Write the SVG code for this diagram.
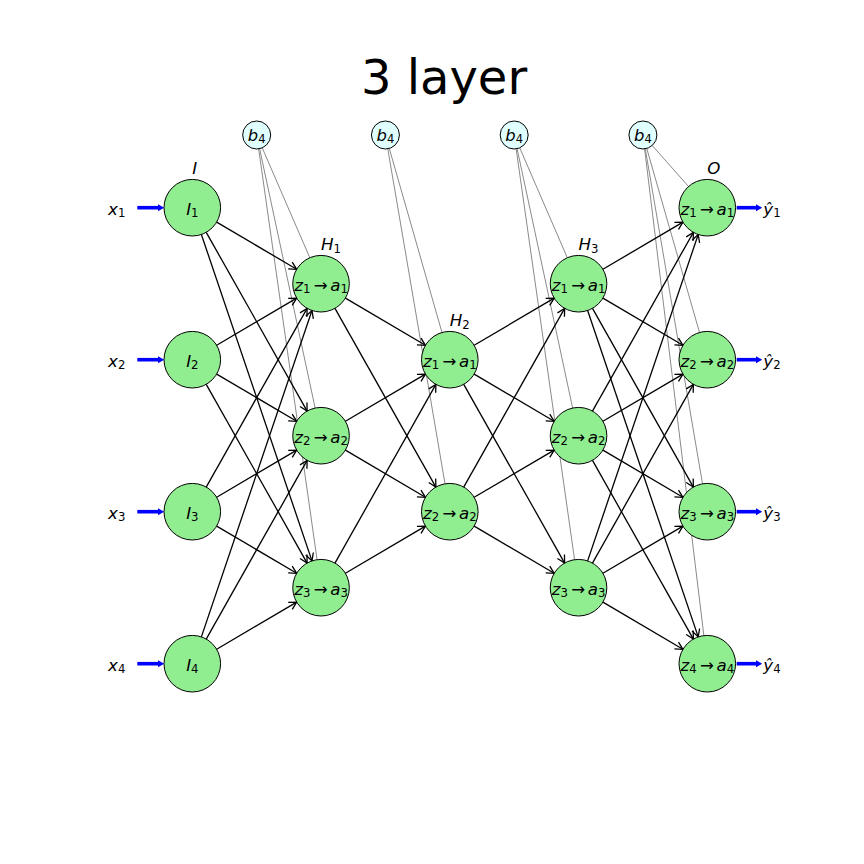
<svg xmlns="http://www.w3.org/2000/svg" width="864" height="864" viewBox="0 0 864 864">
<style>
.t{font-family:"DejaVu Sans","Liberation Sans",sans-serif;font-size:16.67px;fill:#000}
.it{font-style:italic}
.s{font-size:11.67px}
.node circle{fill:#90ee90;stroke:#000;stroke-width:1}
.bias circle{fill:#e0ffff;stroke:#000;stroke-width:1}
.bias text{font-size:16.4px}
.bias .s{font-size:11.5px}
#arrows line{stroke:#000;stroke-width:1.3;marker-end:url(#ah)}
#biaslines line{stroke:#8a8a8a;stroke-width:1}
.io line{stroke:#0000ff;stroke-width:3.6}
.io polygon{fill:#0000ff}
</style>
<defs>
<marker id="ah" markerUnits="userSpaceOnUse" viewBox="-10 -6 12 12" markerWidth="12" markerHeight="12" refX="0" refY="0" orient="auto">
<path d="M-7.5,-4 L0,0 L-7.5,4" fill="none" stroke="#000" stroke-width="1.3"/>
</marker>
</defs>
<rect width="864" height="864" fill="#fff"/>
<text class="t" x="444" y="94" text-anchor="middle" style="font-size:48px">3 layer</text>

<g id="connectors">
<g id="biaslines">
<line x1="262.24" y1="147.85" x2="309.81" y2="257.73"/>
<line x1="259.61" y1="148.69" x2="315.13" y2="408.03"/>
<line x1="258.65" y1="148.86" x2="317.07" y2="559.68"/>
<line x1="389.28" y1="148.46" x2="442.01" y2="332.49"/>
<line x1="387.78" y1="148.80" x2="445.03" y2="483.80"/>
<line x1="519.74" y1="147.85" x2="567.31" y2="257.73"/>
<line x1="517.11" y1="148.69" x2="572.63" y2="408.03"/>
<line x1="516.15" y1="148.86" x2="574.57" y2="559.68"/>
<line x1="652.21" y1="145.48" x2="688.54" y2="186.51"/>
<line x1="646.78" y1="148.46" x2="699.51" y2="332.49"/>
<line x1="645.28" y1="148.80" x2="702.53" y2="483.80"/>
<line x1="644.62" y1="148.90" x2="703.88" y2="635.61"/>
</g>
<g id="arrows">
<line x1="216.67" y1="222.09" x2="296.68" y2="269.31"/>
<line x1="206.22" y1="232.34" x2="307.13" y2="411.06"/>
<line x1="201.38" y1="234.50" x2="311.97" y2="560.90"/>
<line x1="216.67" y1="345.31" x2="296.68" y2="298.09"/>
<line x1="216.67" y1="374.09" x2="296.68" y2="421.31"/>
<line x1="206.22" y1="384.34" x2="307.13" y2="563.06"/>
<line x1="206.22" y1="487.06" x2="307.13" y2="308.34"/>
<line x1="216.67" y1="497.31" x2="296.68" y2="450.09"/>
<line x1="216.67" y1="526.09" x2="296.68" y2="573.31"/>
<line x1="201.38" y1="636.90" x2="311.97" y2="310.50"/>
<line x1="206.22" y1="639.06" x2="307.13" y2="460.34"/>
<line x1="216.67" y1="649.31" x2="296.68" y2="602.09"/>

<line x1="345.42" y1="298.09" x2="425.43" y2="345.31"/>
<line x1="334.97" y1="308.34" x2="435.88" y2="487.06"/>
<line x1="345.42" y1="421.31" x2="425.43" y2="374.09"/>
<line x1="345.42" y1="450.09" x2="425.43" y2="497.31"/>
<line x1="334.97" y1="563.06" x2="435.88" y2="384.34"/>
<line x1="345.42" y1="573.31" x2="425.43" y2="526.09"/>

<line x1="474.17" y1="345.31" x2="554.18" y2="298.09"/>
<line x1="474.17" y1="374.09" x2="554.18" y2="421.31"/>
<line x1="463.72" y1="384.34" x2="564.63" y2="563.06"/>
<line x1="463.72" y1="487.06" x2="564.63" y2="308.34"/>
<line x1="474.17" y1="497.31" x2="554.18" y2="450.09"/>
<line x1="474.17" y1="526.09" x2="554.18" y2="573.31"/>

<line x1="602.92" y1="269.31" x2="682.93" y2="222.09"/>
<line x1="602.92" y1="298.09" x2="682.93" y2="345.31"/>
<line x1="592.47" y1="308.34" x2="693.38" y2="487.06"/>
<line x1="587.63" y1="310.50" x2="698.22" y2="636.90"/>
<line x1="592.47" y1="411.06" x2="693.38" y2="232.34"/>
<line x1="602.92" y1="421.31" x2="682.93" y2="374.09"/>
<line x1="602.92" y1="450.09" x2="682.93" y2="497.31"/>
<line x1="592.47" y1="460.34" x2="693.38" y2="639.06"/>
<line x1="587.63" y1="560.90" x2="698.22" y2="234.50"/>
<line x1="592.47" y1="563.06" x2="693.38" y2="384.34"/>
<line x1="602.92" y1="573.31" x2="682.93" y2="526.09"/>
<line x1="602.92" y1="602.09" x2="682.93" y2="649.31"/>
</g>
<g id="inputs" class="io">
<line x1="137.3" y1="207.7" x2="159" y2="207.7"/><polygon points="158,204.2 164.2,207.7 158,211.2"/>
<line x1="137.3" y1="359.7" x2="159" y2="359.7"/><polygon points="158,356.2 164.2,359.7 158,363.2"/>
<line x1="137.3" y1="511.7" x2="159" y2="511.7"/><polygon points="158,508.2 164.2,511.7 158,515.2"/>
<line x1="137.3" y1="663.7" x2="159" y2="663.7"/><polygon points="158,660.2 164.2,663.7 158,667.2"/>
</g>
<g id="outputs" class="io">
<line x1="736.7" y1="207.7" x2="757" y2="207.7"/><polygon points="756,204.2 762.2,207.7 756,211.2"/>
<line x1="736.7" y1="359.7" x2="757" y2="359.7"/><polygon points="756,356.2 762.2,359.7 756,363.2"/>
<line x1="736.7" y1="511.7" x2="757" y2="511.7"/><polygon points="756,508.2 762.2,511.7 756,515.2"/>
<line x1="736.7" y1="663.7" x2="757" y2="663.7"/><polygon points="756,660.2 762.2,663.7 756,667.2"/>
</g>
</g>

<g id="io-labels" class="t" text-anchor="middle">
<text x="116.7" y="214.5"><tspan class="it">x</tspan><tspan class="s" dy="2.8">1</tspan></text>
<text x="116.7" y="366.5"><tspan class="it">x</tspan><tspan class="s" dy="2.8">2</tspan></text>
<text x="116.7" y="518.5"><tspan class="it">x</tspan><tspan class="s" dy="2.8">3</tspan></text>
<text x="116.7" y="670.5"><tspan class="it">x</tspan><tspan class="s" dy="2.8">4</tspan></text>
<text x="772" y="214.5"><tspan class="it">ŷ</tspan><tspan class="s" dy="2.8">1</tspan></text>
<text x="772" y="366.5"><tspan class="it">ŷ</tspan><tspan class="s" dy="2.8">2</tspan></text>
<text x="772" y="518.5"><tspan class="it">ŷ</tspan><tspan class="s" dy="2.8">3</tspan></text>
<text x="772" y="670.5"><tspan class="it">ŷ</tspan><tspan class="s" dy="2.8">4</tspan></text>
</g>

<g id="layer-labels" class="t">
<text x="192.3" y="173.5" class="it">I</text>
<text x="321.05" y="250"><tspan class="it">H</tspan><tspan class="s" dy="2.8">1</tspan></text>
<text x="449.8" y="326"><tspan class="it">H</tspan><tspan class="s" dy="2.8">2</tspan></text>
<text x="578.55" y="250"><tspan class="it">H</tspan><tspan class="s" dy="2.8">3</tspan></text>
<text x="707.3" y="173.5" class="it">O</text>
</g>

<g id="B1" class="bias"><circle cx="256.675" cy="135" r="14"/><text class="t" x="256.675" y="140.8" text-anchor="middle"><tspan class="it">b</tspan><tspan class="s" dy="2.6">4</tspan></text></g>
<g id="B2" class="bias"><circle cx="385.425" cy="135" r="14"/><text class="t" x="385.425" y="140.8" text-anchor="middle"><tspan class="it">b</tspan><tspan class="s" dy="2.6">4</tspan></text></g>
<g id="B3" class="bias"><circle cx="514.175" cy="135" r="14"/><text class="t" x="514.175" y="140.8" text-anchor="middle"><tspan class="it">b</tspan><tspan class="s" dy="2.6">4</tspan></text></g>
<g id="B4" class="bias"><circle cx="642.925" cy="135" r="14"/><text class="t" x="642.925" y="140.8" text-anchor="middle"><tspan class="it">b</tspan><tspan class="s" dy="2.6">4</tspan></text></g>

<g id="I1" class="node"><circle cx="192.3" cy="207.7" r="28.3"/><text class="t" x="192.3" y="214.5" text-anchor="middle"><tspan class="it">I</tspan><tspan class="s" dy="2.8">1</tspan></text></g>
<g id="I2" class="node"><circle cx="192.3" cy="359.7" r="28.3"/><text class="t" x="192.3" y="366.5" text-anchor="middle"><tspan class="it">I</tspan><tspan class="s" dy="2.8">2</tspan></text></g>
<g id="I3" class="node"><circle cx="192.3" cy="511.7" r="28.3"/><text class="t" x="192.3" y="518.5" text-anchor="middle"><tspan class="it">I</tspan><tspan class="s" dy="2.8">3</tspan></text></g>
<g id="I4" class="node"><circle cx="192.3" cy="663.7" r="28.3"/><text class="t" x="192.3" y="670.5" text-anchor="middle"><tspan class="it">I</tspan><tspan class="s" dy="2.8">4</tspan></text></g>

<g id="H1_1" class="node"><circle cx="321.05" cy="283.7" r="28.3"/><text class="t" x="321.05" y="290.6" text-anchor="middle"><tspan class="it">z</tspan><tspan class="s" dy="2.8">1</tspan><tspan dy="-2.8" dx="3.5">→</tspan><tspan class="it" dx="2.5">a</tspan><tspan class="s" dy="2.8">1</tspan></text></g>
<g id="H1_2" class="node"><circle cx="321.05" cy="435.7" r="28.3"/><text class="t" x="321.05" y="442.6" text-anchor="middle"><tspan class="it">z</tspan><tspan class="s" dy="2.8">2</tspan><tspan dy="-2.8" dx="3.5">→</tspan><tspan class="it" dx="2.5">a</tspan><tspan class="s" dy="2.8">2</tspan></text></g>
<g id="H1_3" class="node"><circle cx="321.05" cy="587.7" r="28.3"/><text class="t" x="321.05" y="594.6" text-anchor="middle"><tspan class="it">z</tspan><tspan class="s" dy="2.8">3</tspan><tspan dy="-2.8" dx="3.5">→</tspan><tspan class="it" dx="2.5">a</tspan><tspan class="s" dy="2.8">3</tspan></text></g>

<g id="H2_1" class="node"><circle cx="449.8" cy="359.7" r="28.3"/><text class="t" x="449.8" y="366.6" text-anchor="middle"><tspan class="it">z</tspan><tspan class="s" dy="2.8">1</tspan><tspan dy="-2.8" dx="3.5">→</tspan><tspan class="it" dx="2.5">a</tspan><tspan class="s" dy="2.8">1</tspan></text></g>
<g id="H2_2" class="node"><circle cx="449.8" cy="511.7" r="28.3"/><text class="t" x="449.8" y="518.6" text-anchor="middle"><tspan class="it">z</tspan><tspan class="s" dy="2.8">2</tspan><tspan dy="-2.8" dx="3.5">→</tspan><tspan class="it" dx="2.5">a</tspan><tspan class="s" dy="2.8">2</tspan></text></g>

<g id="H3_1" class="node"><circle cx="578.55" cy="283.7" r="28.3"/><text class="t" x="578.55" y="290.6" text-anchor="middle"><tspan class="it">z</tspan><tspan class="s" dy="2.8">1</tspan><tspan dy="-2.8" dx="3.5">→</tspan><tspan class="it" dx="2.5">a</tspan><tspan class="s" dy="2.8">1</tspan></text></g>
<g id="H3_2" class="node"><circle cx="578.55" cy="435.7" r="28.3"/><text class="t" x="578.55" y="442.6" text-anchor="middle"><tspan class="it">z</tspan><tspan class="s" dy="2.8">2</tspan><tspan dy="-2.8" dx="3.5">→</tspan><tspan class="it" dx="2.5">a</tspan><tspan class="s" dy="2.8">2</tspan></text></g>
<g id="H3_3" class="node"><circle cx="578.55" cy="587.7" r="28.3"/><text class="t" x="578.55" y="594.6" text-anchor="middle"><tspan class="it">z</tspan><tspan class="s" dy="2.8">3</tspan><tspan dy="-2.8" dx="3.5">→</tspan><tspan class="it" dx="2.5">a</tspan><tspan class="s" dy="2.8">3</tspan></text></g>

<g id="O1" class="node"><circle cx="707.3" cy="207.7" r="28.3"/><text class="t" x="707.3" y="214.6" text-anchor="middle"><tspan class="it">z</tspan><tspan class="s" dy="2.8">1</tspan><tspan dy="-2.8" dx="3.5">→</tspan><tspan class="it" dx="2.5">a</tspan><tspan class="s" dy="2.8">1</tspan></text></g>
<g id="O2" class="node"><circle cx="707.3" cy="359.7" r="28.3"/><text class="t" x="707.3" y="366.6" text-anchor="middle"><tspan class="it">z</tspan><tspan class="s" dy="2.8">2</tspan><tspan dy="-2.8" dx="3.5">→</tspan><tspan class="it" dx="2.5">a</tspan><tspan class="s" dy="2.8">2</tspan></text></g>
<g id="O3" class="node"><circle cx="707.3" cy="511.7" r="28.3"/><text class="t" x="707.3" y="518.6" text-anchor="middle"><tspan class="it">z</tspan><tspan class="s" dy="2.8">3</tspan><tspan dy="-2.8" dx="3.5">→</tspan><tspan class="it" dx="2.5">a</tspan><tspan class="s" dy="2.8">3</tspan></text></g>
<g id="O4" class="node"><circle cx="707.3" cy="663.7" r="28.3"/><text class="t" x="707.3" y="670.6" text-anchor="middle"><tspan class="it">z</tspan><tspan class="s" dy="2.8">4</tspan><tspan dy="-2.8" dx="3.5">→</tspan><tspan class="it" dx="2.5">a</tspan><tspan class="s" dy="2.8">4</tspan></text></g>
</svg>
